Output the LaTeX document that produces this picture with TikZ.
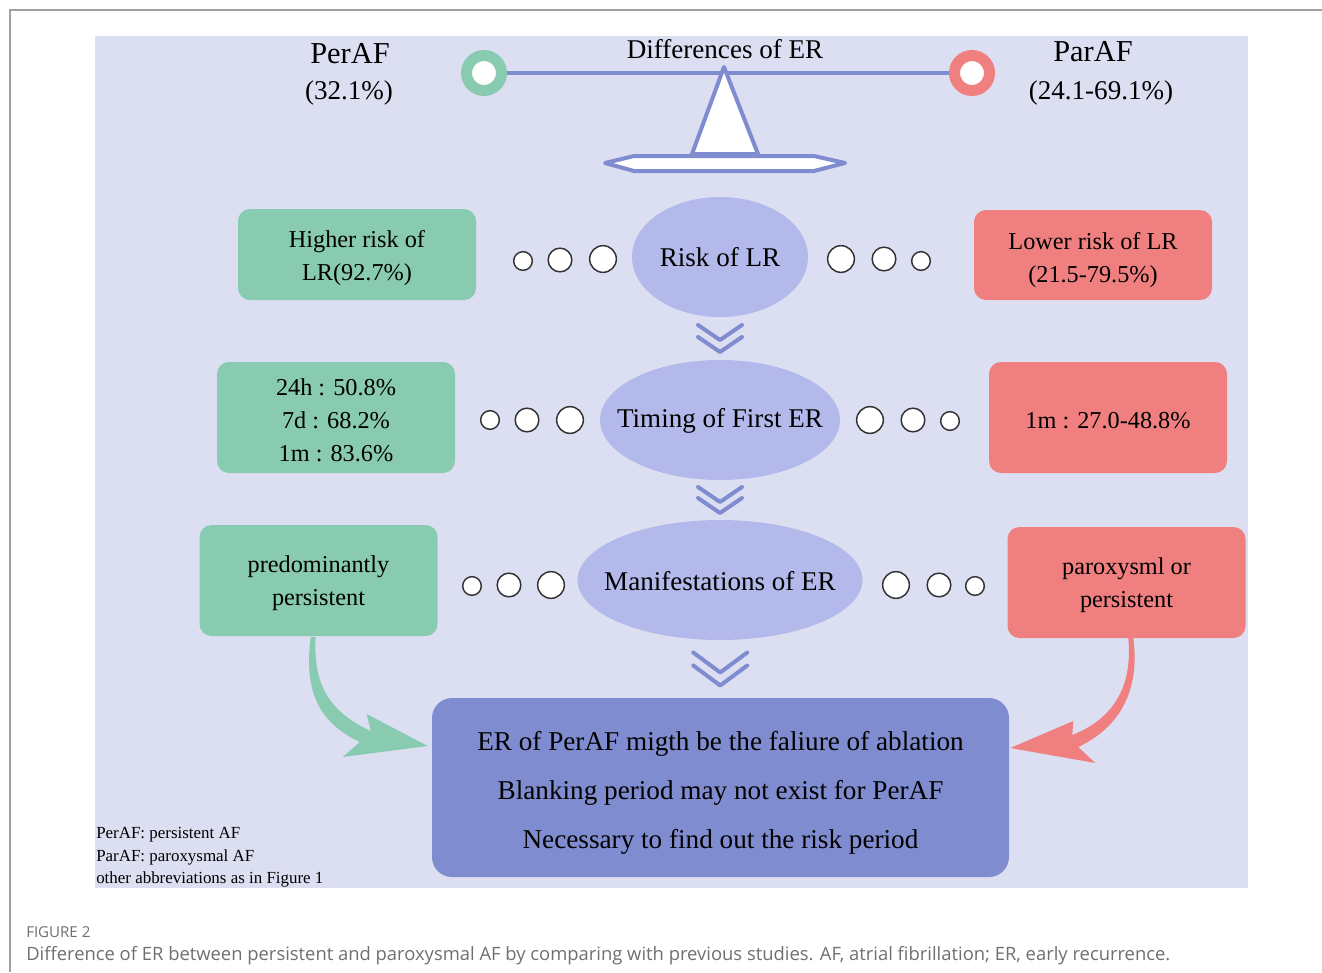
\documentclass[tikz,border=0pt]{standalone}
\usepackage{fontspec}
\setmainfont{Liberation Serif}
\newfontfamily\capfont{Open Sans}
\usetikzlibrary{calc,shapes.geometric}
\definecolor{bg}{HTML}{DCDEF2}
\definecolor{grn}{HTML}{88CBB0}
\definecolor{rd}{HTML}{F08080}
\definecolor{ell}{HTML}{B3B9EA}
\definecolor{blu}{HTML}{7F8CCF}
\definecolor{capgray}{HTML}{707070}
\newcommand\dchev[4]{%
  \draw[chev] ($(#1)+(-#2,{-(#3+#4)/2})$) -- ($(#1)+(0,{(#3-#4)/2})$) -- ($(#1)+(#2,{-(#3+#4)/2})$);
  \draw[chev] ($(#1)+(-#2,{(#4-#3)/2})$) -- ($(#1)+(0,{(#3+#4)/2})$) -- ($(#1)+(#2,{(#4-#3)/2})$);}
\begin{document}
\begin{tikzpicture}[x=0.75pt,y=-0.75pt,
  btxt/.style={font=\fontsize{18.2}{24.75}\selectfont, text=black, align=center, inner sep=0pt},
  otxt/.style={font=\fontsize{20.3}{24.5}\selectfont, text=black, inner sep=0pt},
  gbox/.style={rectangle, rounded corners=9pt, fill=grn, minimum width=178.5pt, inner sep=0pt},
  rbox/.style={rectangle, rounded corners=9pt, fill=rd, minimum width=178.5pt, inner sep=0pt},
  oval/.style={ellipse, fill=ell, inner sep=0pt, minimum height=90pt},
  dot/.style={circle, draw=black!80, fill=white, line width=1.1pt, inner sep=0pt},
  dots/.style={dot, minimum size=14pt},
  dotm/.style={dot, minimum size=17.75pt},
  dotl/.style={dot, minimum size=20pt},
  chev/.style={draw=blu, line width=3pt, line cap=round, line join=round},
  ring/.style={circle, fill=white, line width=8.25pt, minimum size=26.25pt, inner sep=0pt},
  toplbl/.style={anchor=base, font=\fontsize{20.3}{24}\selectfont, inner sep=0pt},
  bigtop/.style={anchor=base, font=\fontsize{22.8}{26}\selectfont, inner sep=0pt},
  fnote/.style={anchor=base west, font=\fontsize{12.7}{15}\selectfont, inner sep=0pt},
  scale1/.style={blu, line width=3pt, fill=white, line join=round}
]
\useasboundingbox (0,0) rectangle (1322,972);
\fill[white] (0,0) rectangle (1322,972);
\draw[gray!75, line width=1pt] (10,972) -- (10,10) -- (1322,10);
\fill[bg] (95,36) rectangle (1248,888);

% balance
\node[ring, draw=grn] (lg) at (484,73) {};
\node[ring, draw=rd] (rr) at (972,73) {};
\draw[blu, line width=3pt] (lg) -- (rr);
\draw[scale1] (724,67) -- (758,154) -- (692,154) -- cycle;
\draw[scale1] (605,163) -- (634,156) -- (814,156) -- (845,163) -- (814,171) -- (634,171) -- cycle;
\node[toplbl] (dif) at (725,58) {Differences of ER};
\node[bigtop] (per) at (350,63) {PerAF};
\node[toplbl] (perv) at (349,99) {(32.1\%)};
\node[bigtop] (par) at (1093,61) {ParAF};
\node[toplbl] (parv) at (1101,99) {(24.1-69.1\%)};

% row 1
\node[gbox, minimum height=68.25pt] (g1) at (357,254.5) {};
\node[btxt] (g1t) at ($(g1.center)+(0,4)$) {Higher risk of\\LR(92.7\%)};
\node[oval, minimum width=132pt] (e1) at (720,257) {};
\node[otxt] (e1t) at ($(e1.center)+(0,0)$) {Risk of LR};
\node[rbox, minimum height=67.5pt] (r1) at (1093,255) {};
\node[btxt] (r1t) at ($(r1.center)+(0,5)$) {Lower risk of LR\\(21.5-79.5\%)};
\node[dots] (d11) at (523,261) {};
\node[dotm] (d12) at (560,260) {};
\node[dotl] (d13) at (603,259) {};
\node[dotl] (d14) at (841,259) {};
\node[dotm] (d15) at (884,259) {};
\node[dots] (d16) at (921,261) {};

% row 2
\node[gbox, minimum height=83.25pt] (g2) at (336,417.5) {};
\node[btxt] (g2t) at ($(g2.center)+(0,3)$) {24h : 50.8\%\\7d : 68.2\%\\1m : 83.6\%};
\node[oval, minimum width=180pt] (e2) at (720,420) {};
\node[otxt] (e2t) at ($(e2.center)+(0,1)$) {Timing of First ER};
\node[rbox, minimum height=83.25pt] (r2) at (1108,417.5) {};
\node[btxt] (r2t) at ($(r2.center)+(0,3)$) {1m : 27.0-48.8\%};
\node[dots] (d21) at (490,420) {};
\node[dotm] (d22) at (527,420) {};
\node[dotl] (d23) at (570,420) {};
\node[dotl] (d24) at (870,420) {};
\node[dotm] (d25) at (913,420) {};
\node[dots] (d26) at (950,421) {};

% row 3
\node[gbox, minimum height=83.25pt] (g3) at (318.5,580.5) {};
\node[btxt] (g3t) at ($(g3.center)+(0,3)$) {predominantly\\persistent};
\node[oval, minimum width=213.75pt] (e3) at (720,580) {};
\node[otxt] (e3t) at ($(e3.center)+(0,1)$) {Manifestations of ER};
\node[rbox, minimum height=83.25pt] (r3) at (1126.5,582.5) {};
\node[btxt] (r3t) at ($(r3.center)+(0,3)$) {paroxysml or\\persistent};
\node[dots] (d31) at (472,586) {};
\node[dotm] (d32) at (509,585) {};
\node[dotl] (d33) at (551,585) {};
\node[dotl] (d34) at (896,585) {};
\node[dotm] (d35) at (939,585) {};
\node[dots] (d36) at (975,586) {};

% bottom box
\node[rectangle, rounded corners=15pt, fill=blu, minimum width=432.75pt, minimum height=134.25pt, inner sep=0pt] (bot) at (720.5,787.5) {};
\node[align=center, inner sep=0pt, font=\fontsize{20.4}{36.75}\selectfont] (bott) at ($(bot.center)+(0,5)$)
  {ER of PerAF migth be the faliure of ablation\\Blanking period may not exist for PerAF\\Necessary to find out the risk period};

% chevrons
\coordinate (m1) at ($(e1.south)!0.5!(e2.north)$);
\coordinate (m2) at ($(e2.south)!0.5!(e3.north)$);
\coordinate (m3) at ($(e3.south)!0.5!(bot.north)$);
\dchev{m1}{22}{15}{12}
\dchev{m2}{22}{15}{11}
\dchev{m3}{27}{20}{13}

% curved arrows
\coordinate (gt) at ($(bot.west)+(-4,-41.5)$);
\coordinate (rt) at ($(bot.east)+(1,-39.5)$);
\fill[grn, shift={(gt)}] (-117,-109) .. controls (-124,-56) and (-110,-24) .. (-68,-4)
   -- (-85,11) -- (0,0) -- (-61,-32) -- (-57,-15)
   .. controls (-98,-34) and (-115,-61) .. (-112,-109) -- cycle;
\fill[rd, shift={(rt)}] (118,-110) .. controls (123,-58) and (100,-28) .. (62,-13)
   -- (63,-27) -- (0,0) -- (85,15) -- (68,-1)
   .. controls (110,-21) and (130,-58) .. (123,-110) -- cycle;

% footnote
\node[fnote] (fn1) at (96,838) {PerAF: persistent AF};
\node[fnote] (fn2) at (96,861) {ParAF: paroxysmal AF};
\node[fnote] (fn3) at (96,883) {other abbreviations as in Figure 1};

% caption
\node[anchor=base west, inner sep=0pt, text=capgray, font=\capfont\fontsize{11.3}{13}\selectfont] (fig) at (26,937) {FIGURE 2};
\node[anchor=base west, inner sep=0pt, text=capgray, font=\capfont\fontsize{13.8}{16}\selectfont] (cap) at (26,960) {Difference of ER between persistent and paroxysmal AF by comparing with previous studies. AF, atrial fibrillation; ER, early recurrence.};
\end{tikzpicture}
\end{document}
